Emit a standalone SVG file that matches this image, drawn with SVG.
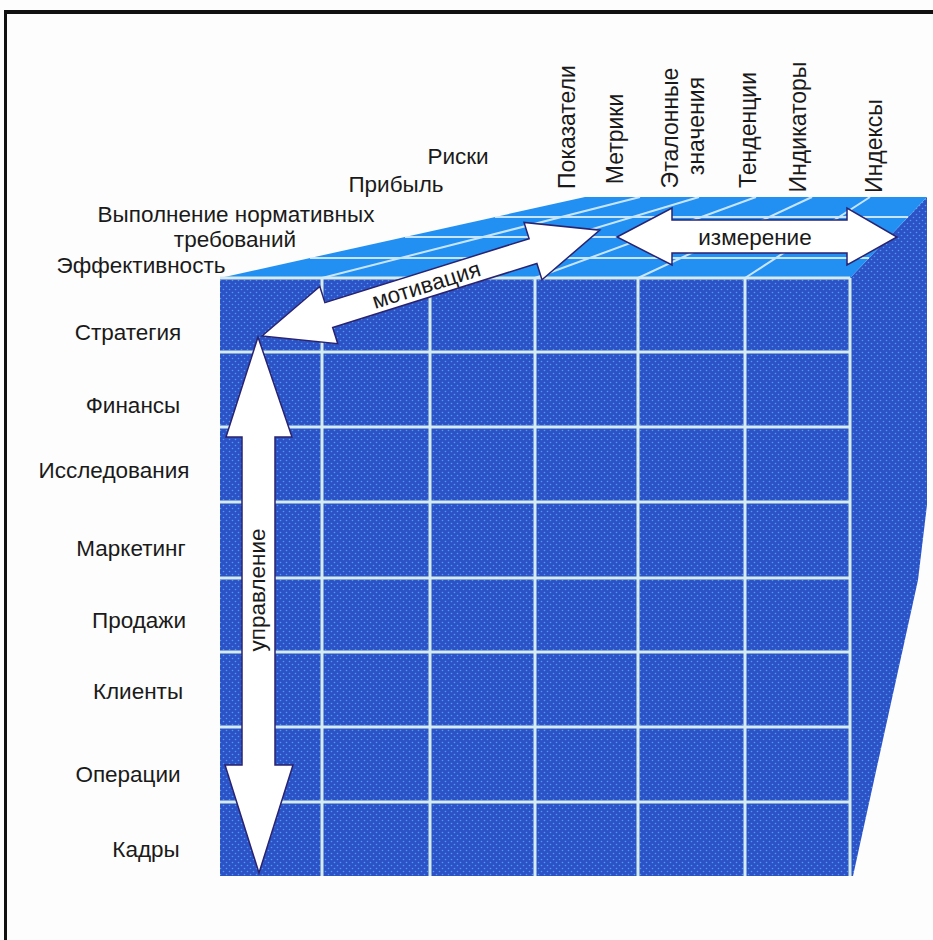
<svg xmlns="http://www.w3.org/2000/svg" width="933" height="940" viewBox="0 0 933 940">
<defs>
<pattern id="dots" width="6" height="6" patternUnits="userSpaceOnUse">
<rect width="6" height="6" fill="#2d52c6"/>
<circle cx="1.5" cy="1.5" r="0.8" fill="#4a9cf0"/>
<circle cx="4.5" cy="4.5" r="0.8" fill="#4a9cf0"/>
</pattern>
<style>
.lbl{font-family:"Liberation Sans",Arial,sans-serif;font-size:22.5px;fill:#1a1a1a}
.vl{font-size:23px}
.alb{font-family:"Liberation Sans",Arial,sans-serif;font-size:22.5px;fill:#1a1a1a}
.grid{stroke:#d4ecef;stroke-width:3;fill:none}
.tgrid{stroke:#e6f4ff;stroke-width:2;fill:none;opacity:0.85}
.arrow{fill:#ffffff;stroke:#2a2370;stroke-width:1.5;stroke-linejoin:miter}
</style>
</defs>
<rect width="933" height="940" fill="#fdfdfd"/>
<g id="frame" stroke="#111" fill="none">
<line x1="4" y1="12" x2="933" y2="12" stroke-width="4"/>
<line x1="5.5" y1="10" x2="5.5" y2="940" stroke-width="3"/>
</g>
<g id="right-face">
<path d="M850,278 L927,197 L927,505 L918,580 L853,876 L850,876 Z" fill="url(#dots)"/>
</g>
<g id="top-face">
<path d="M220,278 L850,278 L927,197 L585,197 Z" fill="#2190f2"/>
<g class="tgrid">
<line x1="310" y1="258" x2="869" y2="258"/>
<line x1="405" y1="237" x2="889" y2="237"/>
<line x1="495" y1="217" x2="908" y2="217"/>
<line x1="322" y1="278" x2="640" y2="197"/>
<line x1="430" y1="278" x2="699" y2="197"/>
<line x1="535" y1="278" x2="756" y2="197"/>
<line x1="638" y1="278" x2="812" y2="197"/>
<line x1="745" y1="278" x2="870" y2="197"/>
</g>
</g>
<g id="front-face">
<rect x="220" y="278" width="630" height="598" fill="url(#dots)"/>
<g class="grid">
<line x1="220" y1="278" x2="850" y2="278"/>
<line x1="220" y1="352" x2="850" y2="352"/>
<line x1="220" y1="427" x2="850" y2="427"/>
<line x1="220" y1="502" x2="850" y2="502"/>
<line x1="220" y1="578" x2="850" y2="578"/>
<line x1="220" y1="652" x2="850" y2="652"/>
<line x1="220" y1="727" x2="850" y2="727"/>
<line x1="220" y1="802" x2="850" y2="802"/>
<line x1="322" y1="278" x2="322" y2="876"/>
<line x1="430" y1="278" x2="430" y2="876"/>
<line x1="535" y1="278" x2="535" y2="876"/>
<line x1="638" y1="278" x2="638" y2="876"/>
<line x1="745" y1="278" x2="745" y2="876"/>
<line x1="850" y1="278" x2="850" y2="876"/>
</g>
</g>
<g id="connectors">
<g id="arrow-upravlenie">
<path class="arrow" d="M258,337 L292,437 L275,437 L275,765 L293,765 L259,873 L225,765 L242,765 L242,437 L226,437 Z"/>
<text class="alb" text-anchor="middle" transform="translate(265,590) rotate(-90)">управление</text>
</g>
<g id="arrow-motivacia" transform="translate(262,336) rotate(-17.4)">
<path class="arrow" d="M0,0 L70,-30 L70,-13 L284,-13 L284,-30 L354,0 L284,30 L284,13 L70,13 L70,30 Z"/>
<text class="alb" text-anchor="middle" x="172" y="8">мотивация</text>
</g>
<g id="arrow-izmerenie">
<path class="arrow" d="M617,237 L672,208 L672,220 L847,220 L847,208 L897,237 L847,265 L847,253 L672,253 L672,265 Z"/>
<text class="alb" text-anchor="middle" x="755" y="245">измерение</text>
</g>
</g>
<g id="row-labels" class="lbl" text-anchor="middle">
<text x="128" y="340">Стратегия</text>
<text x="133" y="413">Финансы</text>
<text x="114" y="478">Исследования</text>
<text x="131" y="556">Маркетинг</text>
<text x="139" y="628">Продажи</text>
<text x="138" y="699">Клиенты</text>
<text x="128" y="782">Операции</text>
<text x="146" y="857">Кадры</text>
</g>
<g id="depth-labels" class="lbl" text-anchor="middle">
<text x="141" y="273">Эффективность</text>
<text x="236" y="222">Выполнение нормативных</text>
<text x="235" y="247">требований</text>
<text x="396" y="192">Прибыль</text>
<text x="458" y="164">Риски</text>
</g>
<g id="column-labels" class="lbl vl" text-anchor="middle">
<text transform="translate(575,127) rotate(-90)">Показатели</text>
<text transform="translate(623,139) rotate(-90)">Метрики</text>
<text transform="translate(678,128) rotate(-90)">Эталонные</text>
<text transform="translate(704,126) rotate(-90)">значения</text>
<text transform="translate(756,130) rotate(-90)">Тенденции</text>
<text transform="translate(806,127) rotate(-90)">Индикаторы</text>
<text transform="translate(882,146) rotate(-90)">Индексы</text>
</g>
</svg>
